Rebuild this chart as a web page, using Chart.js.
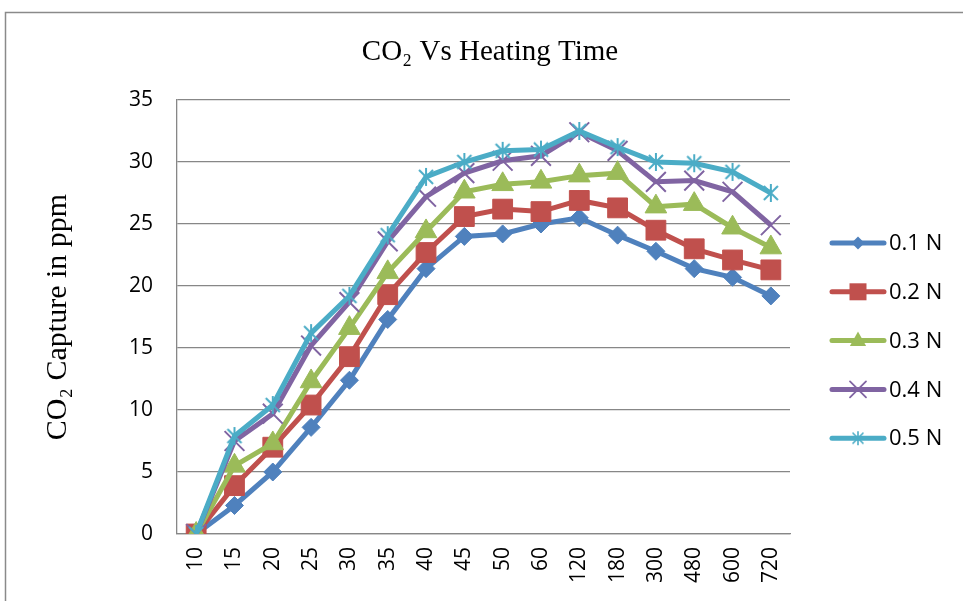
<!DOCTYPE html>
<html>
<head>
<meta charset="utf-8">
<script src="https://cdn.jsdelivr.net/npm/chart.js@4/dist/chart.umd.min.js"></script>
<style>
html,body{margin:0;padding:0;background:#fff;}
#wrap{width:963px;height:601px;}
</style>
</head>
<body>
<div id="wrap"><canvas id="c" width="963" height="601"></canvas></div>
<script>
const categories = ['10','15','20','25','30','35','40','45','50','60','120','180','300','480','600','720'];
const seriesNames = ['0.1 N','0.2 N','0.3 N','0.4 N','0.5 N'];
const s01 = [0, 2.3, 5.0, 8.6, 12.4, 17.3, 21.4, 24.0, 24.2, 25.0, 25.5, 24.1, 22.8, 21.4, 20.7, 19.2];
const s02 = [0, 3.9, 7.0, 10.4, 14.3, 19.3, 22.7, 25.6, 26.2, 26.0, 26.9, 26.3, 24.5, 23.0, 22.1, 21.3];
const s03 = [0, 5.5, 7.3, 12.3, 16.6, 21.1, 24.4, 27.6, 28.2, 28.4, 28.9, 29.1, 26.4, 26.6, 24.7, 23.1];
const s04 = [0, 7.5, 9.7, 15.2, 18.7, 23.6, 27.2, 29.1, 30.1, 30.5, 32.4, 30.9, 28.4, 28.5, 27.6, 24.9];
const s05 = [0, 7.9, 10.4, 16.2, 19.2, 24.1, 28.8, 30.0, 30.9, 31.0, 32.5, 31.2, 30.0, 29.9, 29.2, 27.5];
const yTicks = [0, 5, 10, 15, 20, 25, 30, 35];
const chartTitle = 'CO₂ Vs Heating Time';
const yTitle = 'CO₂ Capture in ppm';
const colors = ['#4F81BD','#C0504D','#9BBB59','#8064A2','#4BACC6'];

function makeStar(size, color, lw) {
  const cv = document.createElement('canvas');
  cv.width = size; cv.height = size;
  const g = cv.getContext('2d');
  g.strokeStyle = color; g.lineWidth = lw; g.lineCap = 'butt';
  const m = size / 2, r = size / 2 - 1, d = r * 0.78;
  g.beginPath();
  g.moveTo(m, m - r); g.lineTo(m, m + r);
  g.moveTo(m - d, m - d); g.lineTo(m + d, m + d);
  g.moveTo(m + d, m - d); g.lineTo(m - d, m + d);
  g.stroke();
  return cv;
}
const starPlot = makeStar(20, colors[4], 2);
const starLegend = makeStar(16, colors[4], 1.6);

const styles = ['rectRot','rect','triangle','crossRot', starPlot];
const radii = [9, 14, 12.5, 14, 10];
const values = [s01, s02, s03, s04, s05];

const datasets = values.map((v, i) => ({
  label: seriesNames[i],
  data: v,
  borderColor: colors[i],
  backgroundColor: colors[i],
  borderWidth: 5,
  pointStyle: styles[i],
  pointRadius: radii[i],
  pointHoverRadius: radii[i],
  pointBorderWidth: i >= 3 ? 2 : 1,
  pointBorderColor: colors[i],
  pointBackgroundColor: colors[i],
  tension: 0,
  order: 5 - i
}));

function legendMarker(ctx, kind, x, y, color) {
  ctx.save();
  ctx.fillStyle = color; ctx.strokeStyle = color;
  ctx.beginPath();
  if (kind === 0) {
    const r = 6.5;
    ctx.moveTo(x, y - r); ctx.lineTo(x + r, y); ctx.lineTo(x, y + r); ctx.lineTo(x - r, y); ctx.closePath(); ctx.fill();
  } else if (kind === 1) {
    const h = 8.5;
    ctx.rect(x - h, y - h, 2 * h, 2 * h); ctx.fill();
  } else if (kind === 2) {
    const r = 9;
    ctx.moveTo(x, y - r); ctx.lineTo(x + r * 0.9, y + r * 0.6); ctx.lineTo(x - r * 0.9, y + r * 0.6); ctx.closePath(); ctx.fill();
  } else if (kind === 3) {
    const d = 8; ctx.lineWidth = 1.8;
    ctx.moveTo(x - d, y - d); ctx.lineTo(x + d, y + d); ctx.moveTo(x + d, y - d); ctx.lineTo(x - d, y + d); ctx.stroke();
  } else {
    ctx.drawImage(starLegend, x - 8, y - 8);
  }
  ctx.restore();
}

const framePlugin = {
  id: 'frame',
  beforeDraw(chart) {
    const ctx = chart.ctx;
    ctx.save();
    ctx.fillStyle = '#fff';
    ctx.fillRect(0, 0, chart.width, chart.height);
    ctx.strokeStyle = '#8a8a8a';
    ctx.lineWidth = 1.5;
    ctx.strokeRect(5.5, 12.5, 2000, 2000);
    ctx.fillStyle = '#000';
    ctx.font = '29px "Liberation Serif", "Times New Roman", serif';
    ctx.textAlign = 'center';
    ctx.textBaseline = 'middle';
    ctx.fillText(chartTitle, 490, 52);
    ctx.restore();
  },
  afterDraw(chart) {
    const ctx = chart.ctx;
    ctx.save();
    chart.data.datasets.forEach((ds, i) => {
      const y = 243 + i * 48.8;
      ctx.strokeStyle = ds.borderColor;
      ctx.lineWidth = 5;
      ctx.lineCap = 'round';
      ctx.beginPath(); ctx.moveTo(832, y); ctx.lineTo(884, y); ctx.stroke();
      legendMarker(ctx, i, 858, y, ds.borderColor);
      ctx.fillStyle = '#000';
      ctx.font = '22px "Open Sans"';
      ctx.textBaseline = 'middle';
      ctx.textAlign = 'left';
      ctx.fillText(ds.label, 889, y + 1);
    });
    ctx.restore();
  }
};

new Chart(document.getElementById('c'), {
  type: 'line',
  data: { labels: categories, datasets: datasets },
  options: {
    responsive: false,
    animation: false,
    events: [],
    layout: { padding: { left: 36, right: 173, top: 100, bottom: 0 } },
    plugins: {
      legend: { display: false },
      tooltip: { enabled: false },
      title: { display: false }
    },
    scales: {
      x: {
        type: 'category',
        offset: true,
        grid: { display: false, drawTicks: false },
        border: { display: true, color: '#878787', width: 1.3 },
        ticks: { color: '#000', font: { family: '"Open Sans"', size: 21 }, minRotation: 90, maxRotation: 90, padding: 13, autoSkip: false },
        afterFit(scale) { scale.height = 67; }
      },
      y: {
        min: 0, max: 35,
        afterBuildTicks(scale) { scale.ticks = yTicks.map(v => ({ value: v })); },
        grid: { color: '#878787', lineWidth: 1.3, drawTicks: false },
        border: { display: true, color: '#878787', width: 1.3 },
        ticks: { color: '#000', font: { family: '"Open Sans"', size: 21 }, padding: 24 },
        title: {
          display: true,
          text: yTitle,
          color: '#000',
          font: { family: '"Liberation Serif", "Times New Roman", serif', size: 30, weight: 'normal' },
          padding: { top: 4, bottom: 4 }
        },
        afterFit(scale) { scale.width = 141; }
      }
    }
  },
  plugins: [framePlugin]
});
</script>
</body>
</html>
